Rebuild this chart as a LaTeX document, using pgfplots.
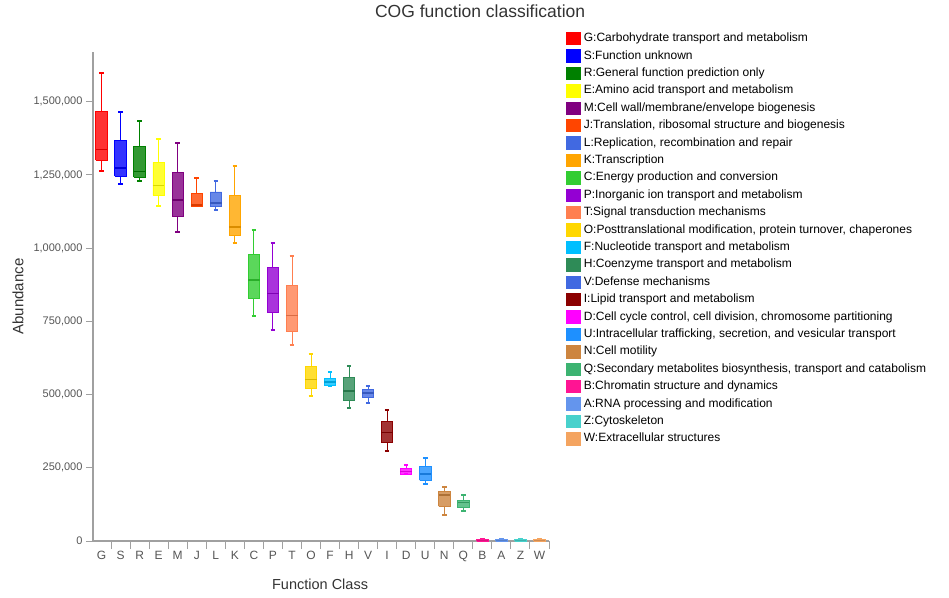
\documentclass[border=0pt]{standalone}
\usepackage{pgfplots}
\pgfplotsset{compat=1.18}
\usepackage{pgfplotstable}
\usepackage{fontspec}
\setmainfont{Liberation Sans}

\definecolor{c0}{RGB}{255,0,0}
\definecolor{c1}{RGB}{0,0,255}
\definecolor{c2}{RGB}{0,128,0}
\definecolor{c3}{RGB}{255,255,0}
\definecolor{c4}{RGB}{128,0,128}
\definecolor{c5}{RGB}{255,69,0}
\definecolor{c6}{RGB}{65,105,225}
\definecolor{c7}{RGB}{255,165,0}
\definecolor{c8}{RGB}{50,205,50}
\definecolor{c9}{RGB}{148,0,211}
\definecolor{c10}{RGB}{255,127,80}
\definecolor{c11}{RGB}{255,215,0}
\definecolor{c12}{RGB}{0,191,255}
\definecolor{c13}{RGB}{46,139,87}
\definecolor{c14}{RGB}{65,105,225}
\definecolor{c15}{RGB}{139,0,0}
\definecolor{c16}{RGB}{255,0,255}
\definecolor{c17}{RGB}{30,144,255}
\definecolor{c18}{RGB}{205,133,63}
\definecolor{c19}{RGB}{60,179,113}
\definecolor{c20}{RGB}{255,20,147}
\definecolor{c21}{RGB}{100,149,237}
\definecolor{c22}{RGB}{72,209,204}
\definecolor{c23}{RGB}{244,164,96}
\definecolor{axgray}{RGB}{160,160,160}
\definecolor{txtgray}{RGB}{85,85,85}

\pgfplotsset{sq/.style={legend image code/.code={\fill[#1, draw=none] (0pt,-6.7pt) rectangle (15.5pt,6.7pt);}}}

% abundance values in thousands
\pgfplotstableread{
cat lw lq med uq uw
G 1265 1300 1337 1466 1597
S 1218 1246 1273 1367 1466
R 1228 1242 1262 1347 1433
E 1143 1180 1214 1293 1374
M 1055 1108 1165 1259 1359
J 1143 1143 1147 1188 1240
L 1131 1143 1154 1192 1231
K 1018 1045 1073 1180 1282
C 770 830 891 978 1063
P 719 779 845 933 1016
T 668 717 770 873 974
O 496 522 551 597 638
F 530 530 542 554 576
H 453 481 513 557 598
V 471 489 506 518 531
I 307 338 371 407 446
D 228 228 238 249 258
U 193 207 228 256 283
N 88 118 157 170 185
Q 103 114 132 140 157
B 0 0 2 5 7
A 0 0 2 5 7
Z 0 0 2 5 7
W 0 0 2 5 7
}\cogdata

\newcommand{\boxrow}[1]{%
  \pgfplotstablegetelem{#1}{lw}\of\cogdata \let\vlw\pgfplotsretval
  \pgfplotstablegetelem{#1}{lq}\of\cogdata \let\vlq\pgfplotsretval
  \pgfplotstablegetelem{#1}{med}\of\cogdata \let\vmed\pgfplotsretval
  \pgfplotstablegetelem{#1}{uq}\of\cogdata \let\vuq\pgfplotsretval
  \pgfplotstablegetelem{#1}{uw}\of\cogdata \let\vuw\pgfplotsretval
  \pgfmathsetmacro{\bxleft}{#1-0.3}\pgfmathsetmacro{\bxright}{#1+0.3}%
  \pgfmathsetmacro{\capleft}{#1-0.12}\pgfmathsetmacro{\capright}{#1+0.12}%
  \edef\tmpplot{%
    \noexpand\addplot[forget plot, draw=c#1, line width=0.9pt] coordinates {(#1,\vuq) (#1,\vuw)};
    \noexpand\addplot[forget plot, draw=c#1, line width=0.9pt] coordinates {(#1,\vlw) (#1,\vlq)};
    \noexpand\addplot[forget plot, draw=c#1, line width=2pt] coordinates {(\capleft,\vuw) (\capright,\vuw)};
    \noexpand\addplot[forget plot, draw=c#1, line width=2pt] coordinates {(\capleft,\vlw) (\capright,\vlw)};
    \noexpand\addplot[forget plot, draw=c#1, fill=c#1, fill opacity=0.8, line width=0.9pt, line join=miter]
      coordinates {(\bxleft,\vlq) (\bxright,\vlq) (\bxright,\vuq) (\bxleft,\vuq) (\bxleft,\vlq)};
    \noexpand\addplot[forget plot, draw=c#1!85!black, line width=1.6pt] coordinates {(\bxleft,\vmed) (\bxright,\vmed)};
  }%
  \tmpplot
}

\begin{document}
\begin{tikzpicture}
\path[use as bounding box] (-93pt,-56pt) rectangle (856pt,541pt);
\begin{axis}[
  scale only axis,
  width=456pt, height=489pt,
  xmin=-0.45, xmax=23.5,
  ymin=0, ymax=1670,
  axis lines=left,
  axis line style={-, draw=axgray, line width=1.2pt},
  tick align=outside,
  major tick length=7pt,
  minor tick length=8pt,
  xtick={0,1,2,3,4,5,6,7,8,9,10,11,12,13,14,15,16,17,18,19,20,21,22,23},
  xticklabels={G,S,R,E,M,J,L,K,C,P,T,O,F,H,V,I,D,U,N,Q,B,A,Z,W},
  xtick style={draw=none},
  minor xtick={0.5,1.5,2.5,3.5,4.5,5.5,6.5,7.5,8.5,9.5,10.5,11.5,12.5,13.5,14.5,15.5,16.5,17.5,18.5,19.5,20.5,21.5,22.5,23.5},
  minor x tick style={draw=axgray, line width=1pt},
  ytick={0,250,500,750,1000,1250,1500},
  yticklabels={0,{250,000},{500,000},{750,000},{1,000,000},{1,250,000},{1,500,000}},
  ytick style={draw=axgray, line width=1pt},
  x tick label style={font=\fontsize{12}{14}\selectfont, text=txtgray},
  y tick label style={font=\fontsize{11}{13}\selectfont, text=txtgray},
  xlabel={Function Class},
  ylabel={Abundance},
  xlabel style={at={(axis description cs:0.498,-0.088)}, anchor=center, font=\fontsize{14.5}{16}\selectfont, text=black!80},
  ylabel style={at={(axis description cs:-0.1645,0.5)}, anchor=center, font=\fontsize{15}{17}\selectfont, text=black!80},
  title={COG function classification},
  title style={at={(axis description cs:0.849,1.0716)}, anchor=center, font=\fontsize{17.5}{20}\selectfont, text=black!80},
  legend cell align=left,
  legend style={at={(axis description cs:1.037,1.045)}, anchor=north west,
    draw=none, fill=none, inner sep=0pt, outer sep=0pt,
    font=\fontsize{12}{14}\selectfont,
    nodes={inner ysep=2.7pt, inner xsep=2.5pt, text height=9pt, text depth=3pt},
    /tikz/every even column/.append style={column sep=0pt}},
]
\pgfplotsinvokeforeach{0,...,23}{\boxrow{#1}}
\addlegendimage{sq=c0}\addlegendentry{G:Carbohydrate transport and metabolism}
\addlegendimage{sq=c1}\addlegendentry{S:Function unknown}
\addlegendimage{sq=c2}\addlegendentry{R:General function prediction only}
\addlegendimage{sq=c3}\addlegendentry{E:Amino acid transport and metabolism}
\addlegendimage{sq=c4}\addlegendentry{M:Cell wall/membrane/envelope biogenesis}
\addlegendimage{sq=c5}\addlegendentry{J:Translation, ribosomal structure and biogenesis}
\addlegendimage{sq=c6}\addlegendentry{L:Replication, recombination and repair}
\addlegendimage{sq=c7}\addlegendentry{K:Transcription}
\addlegendimage{sq=c8}\addlegendentry{C:Energy production and conversion}
\addlegendimage{sq=c9}\addlegendentry{P:Inorganic ion transport and metabolism}
\addlegendimage{sq=c10}\addlegendentry{T:Signal transduction mechanisms}
\addlegendimage{sq=c11}\addlegendentry{O:Posttranslational modification, protein turnover, chaperones}
\addlegendimage{sq=c12}\addlegendentry{F:Nucleotide transport and metabolism}
\addlegendimage{sq=c13}\addlegendentry{H:Coenzyme transport and metabolism}
\addlegendimage{sq=c14}\addlegendentry{V:Defense mechanisms}
\addlegendimage{sq=c15}\addlegendentry{I:Lipid transport and metabolism}
\addlegendimage{sq=c16}\addlegendentry{D:Cell cycle control, cell division, chromosome partitioning}
\addlegendimage{sq=c17}\addlegendentry{U:Intracellular trafficking, secretion, and vesicular transport}
\addlegendimage{sq=c18}\addlegendentry{N:Cell motility}
\addlegendimage{sq=c19}\addlegendentry{Q:Secondary metabolites biosynthesis, transport and catabolism}
\addlegendimage{sq=c20}\addlegendentry{B:Chromatin structure and dynamics}
\addlegendimage{sq=c21}\addlegendentry{A:RNA processing and modification}
\addlegendimage{sq=c22}\addlegendentry{Z:Cytoskeleton}
\addlegendimage{sq=c23}\addlegendentry{W:Extracellular structures}
\end{axis}
\end{tikzpicture}
\end{document}
